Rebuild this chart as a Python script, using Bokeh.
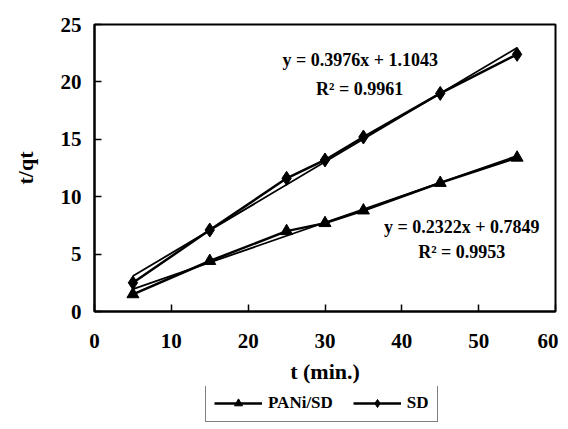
from bokeh.plotting import figure
from bokeh.models import Legend, LegendItem, Label, FixedTicker
from bokeh.layouts import column
from bokeh.embed import file_html
from bokeh.resources import INLINE

# Data
t_min = [5, 15, 25, 30, 35, 45, 55]
pani_sd = [1.5, 4.4, 7.0, 7.7, 8.8, 11.2, 13.4]
sd = [2.5, 7.1, 11.6, 13.2, 15.2, 19.0, 22.4]
x_ticks = [0, 10, 20, 30, 40, 50, 60]
y_ticks = [0, 5, 10, 15, 20, 25]
series_names = ["PANi/SD", "SD"]
# Trendline equations shown on the chart
sd_slope, sd_icpt, sd_r2 = 0.3976, 1.1043, 0.9961
pani_slope, pani_icpt, pani_r2 = 0.2322, 0.7849, 0.9953
trend_x = [t_min[0], t_min[-1]]

FONT = "Liberation Serif"

p = figure(frame_width=461, frame_height=287, x_range=(0, 60), y_range=(0, 25),
           output_backend="svg", toolbar_location=None,
           min_border_left=94, min_border_right=3, min_border_top=24, min_border_bottom=0)
p.grid.visible = False
p.outline_line_color = "black"
p.outline_line_width = 2
p.background_fill_color = "white"
p.border_fill_color = "white"

for ax in (p.xaxis[0], p.yaxis[0]):
    ax.axis_line_color = "black"
    ax.axis_line_width = 2
    ax.major_tick_line_color = "black"
    ax.major_tick_line_width = 1.5
    ax.major_tick_in = 7
    ax.major_tick_out = 0
    ax.minor_tick_line_color = None
    ax.major_label_text_font = FONT
    ax.major_label_text_font_style = "bold"
    ax.major_label_text_font_size = "21px"
    ax.major_label_text_color = "black"
    ax.axis_label_text_font = FONT
    ax.axis_label_text_font_style = "bold"
    ax.axis_label_text_font_size = "22px"
    ax.axis_label_text_color = "black"

p.xaxis.ticker = FixedTicker(ticks=x_ticks)
p.yaxis.ticker = FixedTicker(ticks=y_ticks)
p.xaxis.axis_label = "t (min.)"
p.yaxis.axis_label = "t/qt"
p.xaxis.major_label_standoff = 22
p.yaxis.major_label_standoff = 13
p.xaxis.axis_label_standoff = 8
p.yaxis.axis_label_standoff = 20

# Trendlines
p.line(trend_x, [sd_slope * x + sd_icpt for x in trend_x], line_color="black", line_width=1.8)
p.line(trend_x, [pani_slope * x + pani_icpt for x in trend_x], line_color="black", line_width=1.8)

# Series
p.line(t_min, pani_sd, line_color="black", line_width=2.5)
p.scatter(t_min, pani_sd, marker="triangle", size=12, fill_color="black", line_color="black")
p.line(t_min, sd, line_color="black", line_width=2.5)
p.scatter(t_min, sd, marker="diamond", size=14, fill_color="black", line_color="black")

def lab(x, y, text):
    p.add_layout(Label(x=x, y=y, text=text, text_font=FONT, text_font_style="bold",
                       text_font_size="18px", text_color="black",
                       text_align="center", text_baseline="middle"))

lab(34.6, 21.9, "y = %.4fx + %.4f" % (sd_slope, sd_icpt))
lab(34.5, 19.34, "R² = %.4f" % sd_r2)
lab(47.8, 7.32, "y = %.4fx + %.4f" % (pani_slope, pani_icpt))
lab(47.8, 5.14, "R² = %.4f" % pani_r2)

# Legend strip below the chart (its series renderers are kept outside its visible range)
q = figure(width=558, height=36, x_range=(1000, 1001), y_range=(1000, 1001),
           x_axis_type=None, y_axis_type=None,
           output_backend="svg", toolbar_location=None, min_border=0)
q.grid.visible = False
q.outline_line_color = None
q.border_fill_color = "white"
q.background_fill_color = "white"
ql1 = q.line(t_min, pani_sd, line_color="black", line_width=2.5)
qm1 = q.scatter(t_min, pani_sd, marker="triangle", size=12, fill_color="black", line_color="black")
ql2 = q.line(t_min, sd, line_color="black", line_width=2.5)
qm2 = q.scatter(t_min, sd, marker="diamond", size=14, fill_color="black", line_color="black")

legend = Legend(items=[LegendItem(label=series_names[0], renderers=[ql1, qm1]),
                       LegendItem(label=series_names[1], renderers=[ql2, qm2])],
                location=(111, 0), orientation="horizontal",
                label_text_font=FONT, label_text_font_style="bold",
                label_text_font_size="17px", label_text_color="black",
                glyph_width=48, glyph_height=20, label_standoff=6, spacing=20,
                padding=8, margin=0, border_line_color="black", border_line_width=1,
                background_fill_color="white", background_fill_alpha=1)
q.add_layout(legend, "center")

open("out.html", "w").write(file_html(column(p, q, spacing=0), INLINE))
